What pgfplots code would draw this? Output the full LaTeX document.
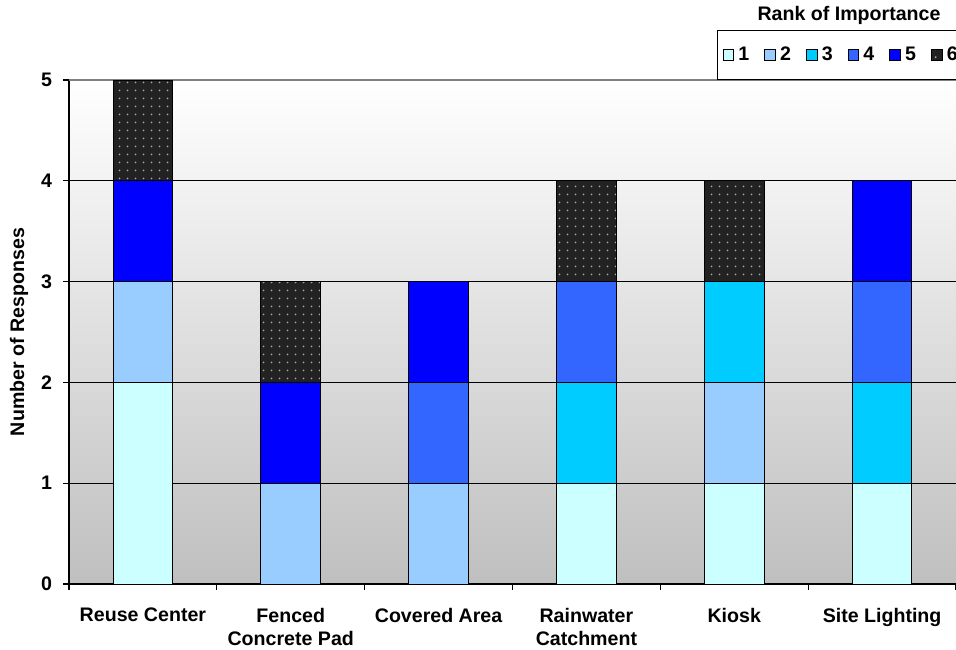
\documentclass[border=0pt]{standalone}
\usepackage{pgfplots}
\pgfplotsset{compat=1.18}
\usepackage{fontspec}
\setmainfont{Liberation Sans}
\usetikzlibrary{patterns.meta}

\definecolor{rank1}{HTML}{CCFFFF}
\definecolor{rank2}{HTML}{99CCFF}
\definecolor{rank3}{HTML}{00CCFF}
\definecolor{rank4}{HTML}{3366FF}
\definecolor{rank5}{HTML}{0000FF}
\definecolor{rank6}{HTML}{222222}

\begin{document}
\fontsize{9.8}{11.5}\selectfont\bfseries
\begin{tikzpicture}
\begin{axis}[
    at={(0,0)}, anchor=south west,
    scale only axis,
    width=443.5pt, height=252pt,
    ybar stacked,
    bar width=0.404,
    xmin=-0.5, xmax=5.5,
    ymin=0, ymax=5,
    axis lines*=left,
    axis line style={black, line width=0.6pt},
    axis background/.style={top color=white, bottom color=black!25},
    xtick={0,...,5},
    xticklabels={Reuse Center, Fenced\\Concrete Pad, Covered Area, Rainwater\\Catchment, Kiosk, Site Lighting},
    xticklabel style={align=center, anchor=north, yshift=-5.5pt, font=\fontsize{9.8}{11.5}\selectfont\bfseries},
    major x tick style={draw=none},
    minor xtick={-0.5,0.5,1.5,2.5,3.5,4.5,5.5},
    minor tick length=3pt,
    minor x tick style={draw=black, line width=0.6pt},
    ytick={0,...,4},
    extra y ticks={5},
    extra y tick style={grid style={gray, line width=0.7pt}},
    ymajorgrids,
    grid style={black, line width=0.5pt},
    tick align=outside,
    major tick length=3pt,
    tick style={black, line width=0.6pt},
    yticklabel style={font=\fontsize{9.8}{11.5}\selectfont\bfseries, xshift=-2pt},
    /pgf/number format/assume math mode=true,
    ylabel={Number of Responses},
    every axis y label/.style={at={(axis description cs:-0.0564,0.5)}, rotate=90, anchor=center},
    legend columns=6,
    legend style={at={(0.7306,1.099)}, anchor=north west, draw=black, line width=0.5pt,
        fill=white, inner xsep=2.5pt, inner ysep=6pt,
        font=\fontsize{9.8}{11.5}\selectfont\bfseries,
        /tikz/every even column/.append style={column sep=5.5pt}},
    legend cell align=left,
    legend image code/.code={\draw[#1, line width=0.5pt] (0pt,-2.7pt) rectangle (5.4pt,2.7pt);},
    every axis plot/.append style={draw=black, line width=0.5pt},
]
\addplot[fill=rank1] coordinates {(0,2) (1,0) (2,0) (3,1) (4,1) (5,1)};
\addplot[fill=rank2] coordinates {(0,1) (1,1) (2,1) (3,0) (4,1) (5,0)};
\addplot[fill=rank3] coordinates {(0,0) (1,0) (2,0) (3,1) (4,1) (5,1)};
\addplot[fill=rank4] coordinates {(0,0) (1,0) (2,1) (3,1) (4,0) (5,1)};
\addplot[fill=rank5] coordinates {(0,1) (1,1) (2,1) (3,0) (4,0) (5,1)};
\addplot[fill=rank6, postaction={pattern={Dots[distance=4pt,radius=0.55pt]}, pattern color=white!65!black}]
    coordinates {(0,1) (1,1) (2,0) (3,1) (4,1) (5,0)};
\legend{1,2,3,4,5,6}
\end{axis}
\node[anchor=center] at (390pt,284.5pt) {Rank of Importance};
\pgfresetboundingbox
\path[use as bounding box] (-34.5pt,-32.5pt) rectangle (443.5pt,292pt);
\end{tikzpicture}
\end{document}
